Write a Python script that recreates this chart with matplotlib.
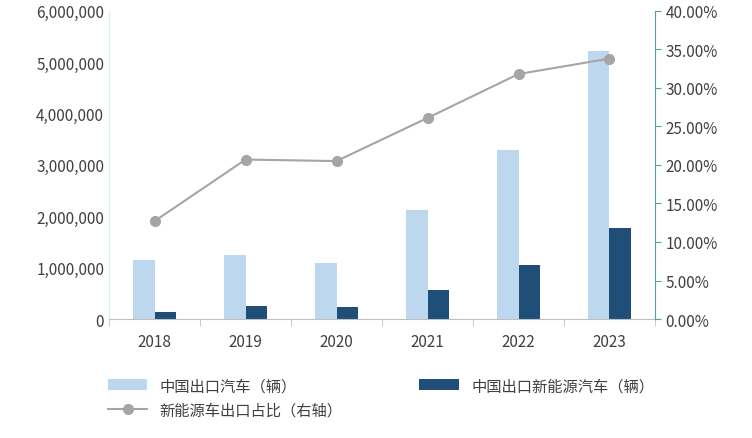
import matplotlib
matplotlib.use("Agg")
import matplotlib.pyplot as plt
from matplotlib.ticker import FuncFormatter
import numpy as np

plt.rcParams["font.family"] = ["Noto Sans CJK SC"]

years = ["2018", "2019", "2020", "2021", "2022", "2023"]
exports = [1150000, 1240000, 1090000, 2120000, 3300000, 5220000]
nev_exports = [130000, 255000, 225000, 560000, 1050000, 1770000]
nev_share = [12.7, 20.7, 20.5, 26.1, 31.8, 33.8]

fig = plt.figure(figsize=(7.52, 4.39), dpi=100)
ax = fig.add_axes([0.145, 0.271, 0.726, 0.702])
x = np.arange(len(years))
w = 0.24
ax.bar(x - w/2, exports, w, color="#bdd7ee", label="中国出口汽车（辆）")
ax.bar(x + w/2, nev_exports, w, color="#1f4e79", label="中国出口新能源汽车（辆）")
ax.set_ylim(0, 6000000)
ax.set_yticks(np.arange(0, 6000001, 1000000))
ax.yaxis.set_major_formatter(FuncFormatter(lambda v, p: f"{int(v):,}"))
ax.set_xlim(-0.5, len(years) - 0.5)
ax.set_xticks(x)
ax.set_xticklabels(years)
ax.set_xticks(np.arange(-0.5, len(years)), minor=True)
ax.tick_params(axis="x", which="major", length=0, pad=10)
ax.tick_params(axis="x", which="minor", length=5, color="#bfbfbf")
ax.tick_params(axis="y", length=0, colors="#404040", labelsize=11)
ax.tick_params(axis="x", colors="#404040", labelsize=11)
for s in ["top", "right"]:
    ax.spines[s].set_visible(False)
ax.spines["bottom"].set_color("#bfbfbf")
ax.spines["left"].set_color("#d6f0f5")

ax2 = ax.twinx()
ax2.plot(x, nev_share, color="#a5a5a5", lw=1.5, marker="o", ms=7,
         label="新能源车出口占比（右轴）")
ax2.set_ylim(0, 40)
ax2.set_yticks(np.arange(0, 40.1, 5))
ax2.yaxis.set_major_formatter(FuncFormatter(lambda v, p: f"{v:.2f}%"))
ax2.tick_params(axis="y", colors="#404040", labelsize=11, length=4)
ax2.tick_params(axis="y", color="#5b9ba5")
for s in ["top", "left", "bottom"]:
    ax2.spines[s].set_visible(False)
ax2.spines["right"].set_color("#5b9ba5")

h1, l1 = ax.get_legend_handles_labels()
h2, l2 = ax2.get_legend_handles_labels()
fig.legend([h1[0], h2[0], h1[1]], [l1[0], l2[0], l1[1]], loc="upper left",
           bbox_to_anchor=(0.125, 0.17), ncol=2, frameon=False, fontsize=11,
           handlelength=2.6, columnspacing=5, labelcolor="#404040")
fig.savefig("out.png", dpi=100)
